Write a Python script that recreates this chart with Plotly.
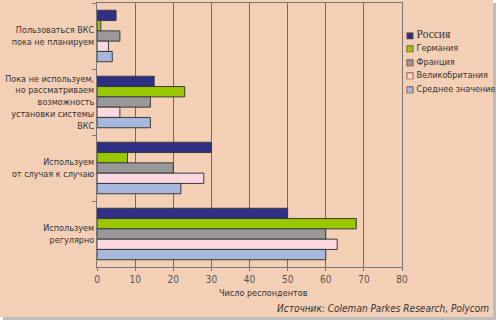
import plotly.graph_objects as go

categories = [
    "Пользоваться ВКС<br>пока не планируем",
    "Пока не используем,<br>но рассматриваем<br>возможность<br>установки системы<br>ВКС",
    "Используем<br>от случая к случаю",
    "Используем<br>регулярно",
]
series_names = ["Россия", "Германия", "Франция", "Великобритания", "Среднее значение"]
russia = [5, 15, 30, 50]
germany = [1, 23, 8, 68]
france = [6, 14, 20, 60]
uk = [3, 6, 28, 63]
average = [4, 14, 22, 60]
series_values = [russia, germany, france, uk, average]
colors = ["#2f2f86", "#99c800", "#999999", "#fbd8df", "#a8b8dc"]
x_ticks = [0, 10, 20, 30, 40, 50, 60, 70, 80]
x_title = "Число респондентов"
source = "Источник: Coleman Parkes Research, Polycom"

SANS = "DejaVu Sans Condensed, Liberation Sans Narrow, Roboto, sans-serif"
SERIF = "Liberation Serif, DejaVu Serif, serif"

fig = go.Figure()
for name, vals, col in zip(series_names, series_values, colors):
    fig.add_trace(go.Bar(
        y=categories, x=vals, orientation="h", name=name,
        marker=dict(color=col, line=dict(color="#3a3a3a", width=1)),
        showlegend=False,
    ))

legend_lines = []
for i, (name, col) in enumerate(zip(series_names, colors)):
    glyph = ("<span style='color:%s;stroke:#444444;stroke-width:0.7px;"
             "font-size:8px;font-family:DejaVu Sans'>■</span>" % col)
    if i == 0:
        legend_lines.append(glyph + " <span style='font-family:%s;font-size:11.5px'>%s</span>" % (SERIF, name))
    else:
        legend_lines.append(glyph + " <span style='font-size:9px'>%s</span>" % name)

fig.update_layout(
    width=500, height=323,
    margin=dict(l=97, r=98, t=3, b=56, autoexpand=False),
    barmode="group", bargap=0.22, bargroupgap=0,
    paper_bgcolor="white",
    plot_bgcolor="#fdf0e6",
    font=dict(family=SANS, size=10, color="#333333"),
    showlegend=False,
    xaxis=dict(
        range=[0, 80], tickvals=x_ticks, showgrid=True, gridcolor="#6e6a66", gridwidth=1,
        showline=True, linecolor="#777777", linewidth=1, mirror=True,
        ticks="outside", ticklen=3, tickcolor="#777777",
        tickfont=dict(family=SANS, size=10, color="#555555"),
        zeroline=False, automargin=False,
    ),
    yaxis=dict(
        autorange="reversed", showline=True, linecolor="#777777", linewidth=1, mirror=True,
        ticks="outside", ticklen=4, tickcolor="#777777", tickson="boundaries",
        tickfont=dict(family=SANS, size=9, color="#333333"),
        showgrid=False, automargin=False,
    ),
    shapes=[
        dict(type="rect", xref="paper", yref="paper",
             x0=(3 - 97) / 305, x1=(496 - 97) / 305,
             y0=(267 - 320) / 264, y1=(267 - 3) / 264,
             fillcolor="#bdbdbd", line=dict(width=0), layer="below"),
        dict(type="rect", xref="paper", yref="paper",
             x0=(0 - 97) / 305, x1=(493 - 97) / 305,
             y0=(267 - 317) / 264, y1=(267 + 3) / 264,
             fillcolor="#f3cfb5", line=dict(width=0), layer="below"),
    ],
    annotations=[
        dict(text="<br>".join(legend_lines), xref="paper", yref="paper",
             x=(404 - 97) / 305, y=1 - (26 - 3) / 264, xanchor="left", yanchor="top",
             align="left", showarrow=False,
             font=dict(family=SANS, size=10.3, color="#333333")),
        dict(text=x_title, xref="paper", yref="paper",
             x=(263 - 97) / 305, y=-(293 - 267) / 264, xanchor="center", yanchor="middle",
             showarrow=False, font=dict(family=SANS, size=9, color="#333333")),
        dict(text="<i>" + source + "</i>", xref="paper", yref="paper",
             x=(491 - 97) / 305, y=-(308 - 267) / 264, xanchor="right", yanchor="middle",
             showarrow=False, font=dict(family=SANS, size=10, color="#333333")),
    ],
)

fig.write_html("out.html")
